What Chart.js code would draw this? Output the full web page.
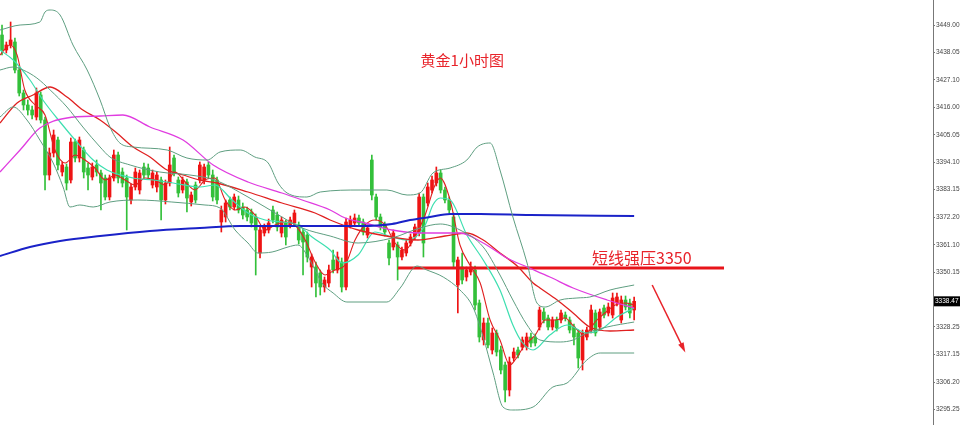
<!DOCTYPE html>
<html><head><meta charset="utf-8">
<script src="https://cdn.jsdelivr.net/npm/chart.js@4/dist/chart.umd.min.js"></script>
<style>html,body{margin:0;padding:0;background:#fff;}canvas{display:block;}</style>
</head><body>
<canvas id="c" width="960" height="425"></canvas>
<script>
// ---- candle data (index = bar number, 1h bars) ----
const opens = [
3445,3439,3441,3442.2,3431,3421.8,3417,3415,3412.2,3421,
3411,3389,3397.8,3403,3390.2,3392.2,3387,3402.2,3395.8,3399,
3391.8,3388.2,3393,3389.8,3387.8,3380.2,3387.8,3397,3390.2,3387.8,
3379,3384.2,3383,3392.2,3391.8,3385,3384.2,3387,3379,3385.8,
3395.8,3387,3383,3386.2,3378.2,3385,3387,3387,3393,3389,
3387,3370.2,3372.2,3379,3376.2,3379,3376.2,3375,3374.2,3372.2,
3357.8,3365.8,3367,3375,3373,3365.8,3369.8,3369,3369.8,3369,
3366.2,3365,3352.2,3352.2,3349.8,3344.2,3345.8,3355,3351,3354.2,
3344.2,3369,3369.8,3371.8,3370.2,3365,3395,3380.2,3372.2,3369,
3361.8,3360.2,3361,3356.2,3357.8,3361.8,3364.2,3365.8,3380.2,3377.8,
3383,3385.8,3389.8,3383,3379,3372.2,3345,3352.2,3348.2,3350.2,
3351,3337.8,3323,3329.8,3319,3325.8,3319,3313,3303,3315.8,
3319,3320.2,3320.2,3324.2,3324.2,3328.2,3334.2,3331.8,3328.2,3331,
3331,3333,3331,3328.2,3325.8,3315,3324.2,3327,3333.8,3328.2,
3335.8,3333.8,3333,3337.8,3331,3339,3337.8,3335
];
const highs = [
3449,3442.2,3450.2,3443.8,3432.2,3423,3419,3416.6,3423.8,3422.2,
3412.2,3399.8,3407,3404.2,3394.2,3393.4,3403.8,3403.4,3404.2,3400.2,
3393.8,3393.8,3395,3391,3389,3389,3399,3398.2,3391.8,3389,
3385.4,3391.8,3391,3393.8,3393.4,3391,3390.2,3388.2,3387,3400.2,
3397,3388.2,3388.2,3387.4,3382.2,3386.2,3394.2,3393.4,3394.2,3391,
3388.2,3376.6,3379,3380.2,3381.4,3380.6,3377.8,3376.2,3375.4,3373.4,
3368.2,3369.4,3371.4,3376.6,3374.2,3372.2,3371,3372.2,3375,3370.2,
3367.4,3366.2,3357.4,3354.2,3351,3348.2,3353,3359,3358.2,3355.8,
3371.8,3372.6,3373.4,3373,3371.4,3369,3397,3381.4,3373.4,3370.2,
3363,3367,3362.2,3360.2,3363,3365.4,3369.4,3381.8,3381.4,3385.8,
3388.6,3392.2,3391,3384.2,3380.2,3373.8,3356.2,3357.8,3352.2,3354.2,
3352.6,3339,3331.8,3331.8,3327.8,3327,3320.6,3314.2,3316.2,3319.8,
3320.2,3324.2,3325.8,3325.8,3325.4,3336.2,3335.8,3333,3332.2,3332.2,
3335,3334.2,3332.2,3329.4,3327,3327,3328.2,3337,3335,3335.4,
3337,3337.8,3341.8,3341.8,3340.6,3340.6,3339.4,3340.2
];
const lows = [
3437,3437.8,3439.8,3429.8,3420.6,3415,3413,3411.4,3411,3409.8,
3383,3387,3396.2,3391,3388.6,3383,3385.8,3394.2,3394.2,3387.8,
3383,3387,3388.6,3375,3379,3379,3386.6,3385.8,3384.2,3367,
3377.4,3383,3381.4,3387.8,3387.4,3383.8,3382.2,3371,3377.4,3384.6,
3388.6,3380.2,3381.8,3374.2,3376.6,3377.8,3385.8,3385.4,3387.8,3378.6,
3377.4,3366.2,3370.2,3375,3375,3373.8,3371.4,3370.6,3368.2,3349,
3355.8,3364.6,3365.8,3369.8,3366.6,3364.2,3361,3367.8,3368.6,3361.4,
3349,3354.2,3344.2,3340.2,3341,3342.2,3344.2,3349.8,3349.8,3342.2,
3343,3367.8,3368.6,3368.6,3365,3363.8,3379,3371,3367,3364.6,
3353,3359,3347,3355,3356.6,3360.6,3363,3364.6,3356.2,3376.6,
3381.8,3384.6,3381.8,3377.8,3373.8,3352.2,3333.8,3345.4,3346.6,3349,
3335,3322.2,3321,3319.8,3317.4,3316.6,3309.4,3298.2,3300.6,3314.6,
3315.8,3319,3319,3320.2,3320.6,3327,3329.8,3327,3327,3326.6,
3329.8,3330.6,3325.8,3321,3311.8,3311,3323,3325.8,3324.6,3327,
3331.8,3332.6,3331.8,3336.6,3329.8,3335,3331.8,3331
];
const closes = [
3439,3441,3443,3431,3421.8,3417,3415,3413,3421.8,3411,
3389,3397.8,3405,3393,3393,3385.8,3402.2,3395.8,3403,3390.2,
3389,3392.2,3390.2,3385.8,3380.2,3387.8,3397,3387.8,3385.8,3380.2,
3384.2,3390.2,3389.8,3389,3389,3389.8,3389,3379,3385.8,3393,
3389.8,3381.8,3387,3379.8,3381,3379,3393,3392.2,3389,3380.2,
3379,3375,3377.8,3376.2,3380.2,3375,3373,3372.2,3369.8,3367,
3367,3368.2,3369.8,3371,3368.2,3371,3364.2,3371,3373.8,3363,
3362.2,3356.2,3356.2,3345.8,3344.2,3347,3351,3351,3356.2,3344.2,
3370.2,3371,3371.8,3369.8,3366.2,3367.8,3381,3372.2,3368.2,3366.2,
3355.8,3365.8,3356.2,3359,3361.8,3364.2,3368.2,3380.2,3361.8,3384.2,
3387,3389.8,3383,3379,3375,3354.2,3355,3347,3351,3352.2,
3337,3324.2,3329.8,3321,3325.8,3318.2,3311,3303,3314.2,3318.2,
3317,3323,3324.2,3321.8,3321.8,3335,3331,3328.2,3331,3327.8,
3333.8,3331.8,3327,3324.2,3315.8,3325.8,3327,3335,3325.8,3334.2,
3333,3336.2,3339.8,3340.2,3339,3336.2,3333.8,3338.47
];

// ---- indicator lines (bar position, price) ----
const maLongAt = [-0.47,6.5,13.5,22.8,34.4,46,55.4,69.3,83.3,90.7,94.9,99.5,104.2,111.2,122.8,147];
const maLong   = [3356.6,3360.2,3362.6,3364.6,3366.6,3367.8,3368.6,3368.6,3368.6,3369.4,3371,3372.2,3373.4,3373.4,3373,3372.6];

const maPinkAt = [-0.47,4.2,8.8,15.1,22.8,28.1,34.4,42.1,49.1,57.2,65.1,69.8,76.3,79.8,84.4,90.7,97.2,106.5,111.9,117.4,122.1,127.4,132.8,140.7,147];
const maPink   = [3390.2,3399,3407.8,3411.8,3412.6,3413,3408.2,3403,3393,3386.2,3381.8,3379,3375,3371.8,3369.8,3367,3365.8,3365.8,3361.8,3355.8,3352.2,3348.2,3343.8,3339,3335.8];

const maMidAt = [-0.47,3.5,7.2,11.2,15.1,18.8,22.8,26.7,30.5,34.4,38.4,42.1,46,50,57.2,65.1,72.8,76.3,82.8,90.7,96.7,103,108.1,111.9,115.8,119.8,123.5,125.1,129.1,132.8,136.7,141.4,147];
const maMid   = [3409.8,3417.8,3421,3424.2,3420.2,3415,3411,3405.8,3400.2,3396.2,3391,3389,3387,3385.8,3382.2,3377.8,3373.8,3371,3367,3364.2,3363,3364.6,3365.8,3363,3357.8,3352.6,3345.8,3343.8,3339,3333.8,3328.2,3326.6,3327];

const maFastAt = [-0.47,1.9,3.5,5.3,7.7,10,12.3,14.7,17,19.3,21.6,24,26.3,28.6,30.9,33.3,35.6,37.9,40.2,42.6,44.9,47.2,49.5,51.9,54.2,56.5,58.8,61.2,63.5,65.8,68.1,70.5,72.8,75.1,77.4,79.8,82.1,84.4,86.7,89.1,91.4,93.7,96,98.4,100.7,101.9,104.2,106.5,108.8,111.2,113.5,115.8,118.1,119.3,121.6,124,126.3,128.6,130.9,133.3,135.6,137.9,140.2,142.6,144.9,147];
const maFast   = [3437,3441,3437,3423,3417,3413,3399,3393.8,3397,3395,3391.8,3387,3389,3387,3385,3387.8,3387,3385,3390.2,3386.2,3383,3387,3387.8,3379,3375,3376.2,3373,3367,3369,3370.2,3369,3363,3354.2,3349,3351,3353,3363,3369,3371,3369,3361.8,3359,3364.2,3373,3385,3387.8,3379,3361,3353,3345.8,3331,3323,3313,3315,3321,3325,3331,3331,3331.8,3327.8,3325,3330.2,3333.8,3337,3337.8,3337];

const maTealAt = [-0.47,2.6,6.5,9.5,13.5,17.4,21.2,24.4,30.5,35.1,39.8,46,49.5,53.5,57.2,61.2,65.1,68.8,72.1,76.3,79.1,82.8,86.7,90.7,94.4,98.4,100.2,101.9,104.2,108.1,111.9,115.8,118.8,120.9,123.5,127.4,131.4,136,139.1,143,147];
const maTeal   = [3439,3435,3427,3419,3410.2,3402.2,3395,3391,3387.8,3387,3385.8,3384.2,3385,3379,3373.8,3371,3370.2,3369,3364.2,3359,3353.8,3357,3366.2,3364.2,3363,3369,3377,3379.8,3379,3365,3355,3343,3329,3322.2,3319,3325,3329,3325.8,3327,3332.2,3335.8];

const bbUpperAt = [-0.47,4.2,8.8,10,11.2,13.5,16.5,19.8,22.8,25.1,27.4,30.5,38.4,43,47.7,50.7,55.4,58.8,61.9,64.2,66.3,70.9,74,83.3,89.5,94.2,97.2,100.2,104.2,108.1,110.5,113.5,115.8,118.8,122.1,124.4,126.3,129.8,133.7,136.7,141.4,147];
const bbUpper   = [3447,3449,3450.2,3454.2,3455,3453,3441,3431,3419,3408.2,3401.8,3400.2,3399,3395.8,3395,3398.2,3399,3396.2,3393.8,3385.8,3381.8,3380.2,3382.2,3383,3383,3381,3381.8,3389.8,3391.8,3395,3400.2,3401.8,3391,3372.2,3353.8,3337.8,3336.2,3339,3339.8,3340.2,3343,3345];

const bbMiddleAt = [-0.47,2.6,4.9,8.1,11.2,15.1,18.8,22.8,25.1,29.8,36.7,43.7,49.5,57.2,65.1,69.8,76.3,82.8,90.7,97.2,101.9,106.5,111.9,115.8,118.8,122.1,125.1,129.8,132.8,136,140.7,147];
const bbMiddle   = [3431,3432.2,3431,3427.8,3423,3416.2,3408.2,3400.2,3396.2,3393,3390.2,3389,3387,3380.2,3372.2,3367.8,3364.6,3361.8,3363.8,3367.8,3369.4,3367,3360.2,3349,3339,3329,3323,3322.2,3323,3325.8,3328.2,3330.2];

const bbLowerAt = [-0.47,2.6,5.8,8.8,11.9,14.2,15.8,18.1,21.2,25.1,31.6,39.5,47.2,50.7,54.2,57.2,59.5,62.8,66.5,68.8,71.2,72.8,74.4,77,80.2,89.5,92.6,96.5,98.8,102.6,106.5,109.5,111.9,114.2,116.5,118.8,123.5,128.1,131.4,136,139.1,147];
const bbLower   = [3412.2,3416.2,3411,3403,3393.8,3384.2,3376.2,3377,3376.2,3378.2,3379,3378.2,3377,3375.8,3367,3361.8,3357.8,3358.2,3360.2,3361,3356.2,3351,3345.8,3341.8,3338.2,3338.2,3343.8,3352.6,3351,3348.2,3343,3336.2,3324.2,3309.8,3296.2,3295,3296.2,3304.2,3305.8,3315,3317.8,3317.8];

// ---- axis & annotations ----
const yTicks = [3449.00,3438.05,3427.10,3416.00,3405.05,3394.10,3383.15,3372.20,3361.10,3350.15,3328.25,3317.15,3306.20,3295.25];
const lastPrice = 3338.47;
const titleText = '黄金1小时图';
const resistanceLabel = '短线强压3350';
const resistanceLevel = 3351.8;
const resistanceSpan = [92.1, 167.9];
const labelAt = 137.2;
const arrowFrom = [151.2, 3345.0];
const arrowTo = [158.9, 3318.0];

const RED = '#ee1414', GREEN = '#33c03a';
const up = i => closes[i] >= opens[i];
const idx = opens.map((_, i) => i);

const pts = (at, v) => at.map((x, i) => ({x, y: v[i]}));
const lineDs = (at, v, color, w) => ({
  type: 'line', data: pts(at, v), borderColor: color, borderWidth: w,
  pointRadius: 0, fill: false, cubicInterpolationMode: 'monotone', order: 0
});

const overlay = {
  id: 'overlay',
  afterDatasetsDraw(chart) {
    const {ctx, scales: {x, y}} = chart;
    ctx.save();
    ctx.fillStyle = '#e8232a';
    ctx.font = '15px "Noto Sans CJK SC"';
    ctx.textAlign = 'center';
    ctx.textBaseline = 'middle';
    ctx.fillText(titleText, chart.width * 0.4815, 60);
    ctx.font = '16px "Noto Sans CJK SC"';
    ctx.textAlign = 'left';
    ctx.textBaseline = 'alphabetic';
    ctx.fillText(resistanceLabel, x.getPixelForValue(labelAt), y.getPixelForValue(resistanceLevel) - 4);
    // arrow
    const x1 = x.getPixelForValue(arrowFrom[0]), y1 = y.getPixelForValue(arrowFrom[1]);
    const x2 = x.getPixelForValue(arrowTo[0]), y2 = y.getPixelForValue(arrowTo[1]);
    const ang = Math.atan2(y2 - y1, x2 - x1);
    ctx.strokeStyle = '#e8232a';
    ctx.lineWidth = 1.5;
    ctx.beginPath();
    ctx.moveTo(x1, y1);
    ctx.lineTo(x2 - 6 * Math.cos(ang), y2 - 6 * Math.sin(ang));
    ctx.stroke();
    ctx.beginPath();
    ctx.moveTo(x2, y2);
    ctx.lineTo(x2 - 10 * Math.cos(ang) + 3 * Math.sin(ang), y2 - 10 * Math.sin(ang) - 3 * Math.cos(ang));
    ctx.lineTo(x2 - 10 * Math.cos(ang) - 3 * Math.sin(ang), y2 - 10 * Math.sin(ang) + 3 * Math.cos(ang));
    ctx.closePath();
    ctx.fill();
    ctx.restore();
  },
  afterDraw(chart) {
    const {ctx, scales: {y}} = chart;
    const py = y.getPixelForValue(lastPrice);
    ctx.save();
    ctx.fillStyle = '#000';
    ctx.fillRect(y.left + 1, py - 5, y.right - y.left - 1, 10);
    ctx.fillStyle = '#fff';
    ctx.font = '6.5px "Liberation Sans"';
    ctx.textBaseline = 'middle';
    ctx.textAlign = 'left';
    ctx.fillText(lastPrice.toFixed(2), y.left + 2, py);
    ctx.restore();
  }
};

new Chart(document.getElementById('c'), {
  type: 'bar',
  data: {
    datasets: [
      lineDs(bbUpperAt, bbUpper, '#5e9e80', 1),
      lineDs(bbMiddleAt, bbMiddle, '#5e9e80', 1),
      lineDs(bbLowerAt, bbLower, '#5e9e80', 1),
      lineDs(maLongAt, maLong, '#1a22c8', 2),
      lineDs(maPinkAt, maPink, '#e03ce0', 1.3),
      lineDs(maMidAt, maMid, '#e02020', 1.3),
      lineDs(maTealAt, maTeal, '#3ddfb0', 1.2),
      lineDs(maFastAt, maFast, '#e02020', 1.1),
      {
        type: 'line', data: resistanceSpan.map(v => ({x: v, y: resistanceLevel})),
        borderColor: '#e8141a', borderWidth: 3, pointRadius: 0, order: 0
      },
      {
        label: 'wick', data: idx.map(i => ({x: i, y: [lows[i], highs[i]]})),
        backgroundColor: c => up(c.dataIndex) ? RED : GREEN,
        barThickness: 1, grouped: false, order: 3, minBarLength: 1
      },
      {
        label: 'body', data: idx.map(i => ({x: i, y: [opens[i], closes[i]]})),
        backgroundColor: c => up(c.dataIndex) ? RED : GREEN,
        barThickness: 3, grouped: false, order: 2, minBarLength: 1
      }
    ]
  },
  options: {
    responsive: false, animation: false,
    layout: {padding: 0},
    plugins: {legend: {display: false}, tooltip: {enabled: false}},
    scales: {
      x: {type: 'linear', display: false, min: -0.47, max: 216.5, offset: false},
      y: {
        position: 'right', min: 3289, max: 3459,
        afterBuildTicks: s => { s.ticks = yTicks.map(v => ({value: v})); },
        afterFit: s => { s.width = 27; s.paddingTop = 0; s.paddingBottom = 0; },
        ticks: {callback: v => Number(v).toFixed(2), font: {size: 6.5, family: 'Liberation Sans'}, color: '#444', padding: 1, autoSkip: false},
        grid: {drawOnChartArea: false, tickLength: 2, color: '#777'},
        border: {color: '#777'}
      }
    }
  },
  plugins: [overlay]
});
</script>
</body></html>
